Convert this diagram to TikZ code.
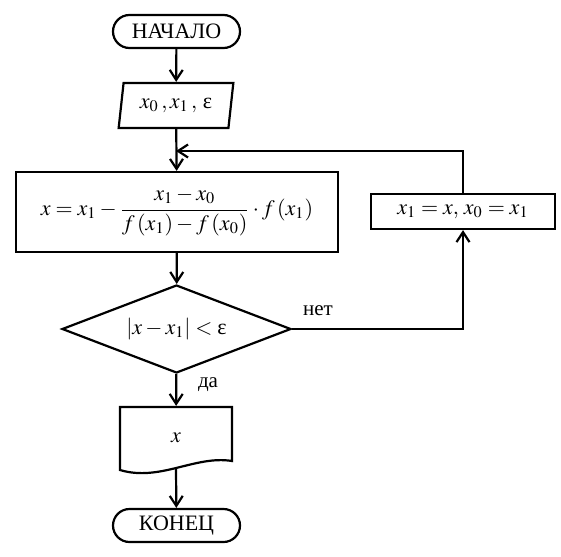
\documentclass[tikz,border=0pt]{standalone}
\usepackage{amsmath}
\usepackage{mathptmx}
\usepackage{fontspec}
\setmainfont{Liberation Serif}
\usetikzlibrary{shapes.geometric,arrows.meta}

\newcommand{\eps}{\textrm{ε}}

\begin{document}
\begin{tikzpicture}[x=0.5pt,y=-0.5pt,line width=1.1pt,
   >={Straight Barb[length=5pt,width=6.5pt]},
   every node/.style={font=\rmfamily\fontsize{11}{13}\selectfont},
   term/.style={draw,rounded corners=8.25pt,minimum width=63.5pt,minimum height=16.5pt,inner sep=0pt},
   datain/.style={draw,trapezium,trapezium left angle=77,trapezium right angle=103,
      trapezium stretches=true,minimum width=57.5pt,minimum height=22.5pt,inner sep=0pt},
   proc/.style={draw,minimum width=161pt,minimum height=40pt,inner sep=0pt},
   cond/.style={draw,diamond,aspect=2.6,minimum width=114.5pt,minimum height=44pt,inner sep=0pt},
   lbl/.style={font=\rmfamily\fontsize{10.5}{12}\selectfont,inner sep=0pt}]

\useasboundingbox (0,0) rectangle (561,556);

%blocs
\node [term] (start) at (176.5,31.5) {НАЧАЛО};
\node [datain] (in) at (176,105.5) {$x_0\,, x_1\,,$ \eps};
\node [proc] (calc) at (177,212) {$x = x_1 - \dfrac{x_1 - x_0}{f\,(x_1) - f\,(x_0)}\cdot f\,(x_1)$};
\node [proc,minimum width=92pt,minimum height=17.5pt] (swap) at (463,211.5) {$x_1 = x,\, x_0 = x_1$};
\node [cond] (test) at (176.5,329) {$\lvert x - x_1\rvert < \eps$};
\node [minimum width=56pt,minimum height=30.5pt,inner sep=0pt] (out) at (176,437.5) {$x$};
\node [term] (stop) at (176.5,525.5) {КОНЕЦ};

%document
\draw (120,407) -- (232,407) -- (232,461)
   .. controls (195,455) and (160,482) .. (120,470) -- cycle;

%fleches
\coordinate (back) at (176,151);
\draw [->] (start) -- (in);
\draw [->] (in) -- (calc);
\draw [->] (calc) -- (test);
\draw [->] (test.east) -| (swap.south);
\draw [->] (swap.north) |- (back);
\draw [->] (test) -- (out);
\draw [->] (out.south) -- (stop);

%etiquettes
\node [lbl] (no) at (318,311) {нет};
\node [lbl] (yes) at (208,385) {да};

\end{tikzpicture}
\end{document}
